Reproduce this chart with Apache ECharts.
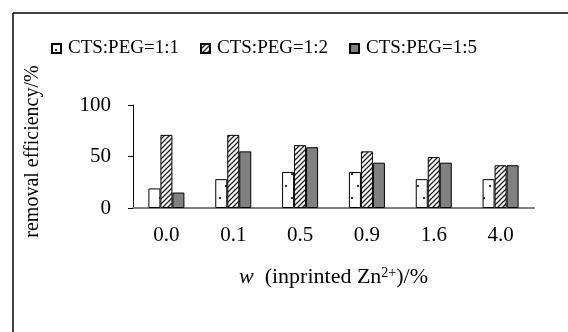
<!DOCTYPE html>
<html>
<head>
<meta charset="utf-8">
<script src="https://cdn.jsdelivr.net/npm/echarts@6/dist/echarts.min.js"></script>
<style>
  html, body { margin: 0; padding: 0; background: #fff; }
  #chart { width: 568px; height: 332px; }
</style>
</head>
<body>
<div id="chart"></div>
<script>
// x categories: w (inprinted Zn2+)/%
const categories = ['0.0', '0.1', '0.5', '0.9', '1.6', '4.0']
// removal efficiency/% for each CTS:PEG ratio
const ratio11 = [19, 28, 35, 35, 28, 28]
const ratio12 = [71, 71, 61, 55, 49.5, 41.5]
const ratio15 = [15, 55, 59, 44, 44, 41.5]
const seriesNames = ['CTS:PEG=1:1', 'CTS:PEG=1:2', 'CTS:PEG=1:5']
const yTicks = [0, 50, 100]

const FONT = "'Liberation Serif', 'Times New Roman', serif"

// 点状填充
function dotPattern() {
  let c = document.createElement('canvas')
  c.width = 12
  c.height = 24
  let ctx = c.getContext('2d')
  ctx.fillStyle = '#fff'
  ctx.fillRect(0, 0, 12, 24)
  ctx.fillStyle = '#333'
  ctx.fillRect(3, 5, 2, 2)
  ctx.fillRect(9, 17, 2, 2)
  return c
}

// 斜线填充
function hatchPattern() {
  let c = document.createElement('canvas')
  c.width = 5
  c.height = 5
  let ctx = c.getContext('2d')
  ctx.fillStyle = '#fff'
  ctx.fillRect(0, 0, 5, 5)
  ctx.strokeStyle = '#222'
  ctx.lineWidth = 1.3
  ctx.beginPath()
  ctx.moveTo(-1, 6)
  ctx.lineTo(6, -1)
  ctx.moveTo(-1, 1)
  ctx.lineTo(1, -1)
  ctx.moveTo(4, 6)
  ctx.lineTo(6, 4)
  ctx.stroke()
  return c
}

let chartDom = document.getElementById('chart')
let myChart = echarts.init(chartDom)

let fills = [
  { image: dotPattern(), repeat: 'repeat' },
  { image: hatchPattern(), repeat: 'repeat' },
  '#808080'
]
let values = [ratio11, ratio12, ratio15]

let option = {
  animation: false,
  backgroundColor: '#fff',
  textStyle: { fontFamily: FONT },
  graphic: [
    { type: 'line', shape: { x1: 13, y1: 13, x2: 568, y2: 13 }, style: { stroke: '#000', lineWidth: 1.5 } },
    { type: 'line', shape: { x1: 13, y1: 13, x2: 13, y2: 332 }, style: { stroke: '#000', lineWidth: 1.5 } }
  ],
  legend: {
    top: 34,
    left: 46,
    itemWidth: 9,
    itemHeight: 9,
    itemGap: 21,
    icon: 'rect',
    textStyle: { fontFamily: FONT, fontSize: 19, color: '#000', padding: [0, 0, 0, 2] },
    data: seriesNames
  },
  grid: { left: 133, right: 34, top: 105, bottom: 124 },
  xAxis: {
    type: 'category',
    data: categories,
    name: '{i|w}{t|  (inprinted Zn}{s|2+}{t|)/%}',
    nameLocation: 'middle',
    nameGap: 58,
    nameTextStyle: {
      rich: {
        i: { fontFamily: FONT, fontSize: 22, fontStyle: 'italic', color: '#000' },
        t: { fontFamily: FONT, fontSize: 22, color: '#000' },
        s: { fontFamily: FONT, fontSize: 14, color: '#000', verticalAlign: 'top', padding: [0, 0, 9, 0] }
      }
    },
    axisLine: { lineStyle: { color: '#808080', width: 2 } },
    axisTick: { inside: true, length: 5, lineStyle: { color: '#000' } },
    axisLabel: { fontFamily: FONT, fontSize: 21, color: '#000', margin: 17 }
  },
  yAxis: {
    type: 'value',
    min: 0,
    max: 100,
    interval: 50,
    name: 'removal efficiency/%',
    nameLocation: 'middle',
    nameGap: 90,
    nameRotate: 90,
    nameTextStyle: { fontFamily: FONT, fontSize: 20, color: '#000', padding: [0, 0, 0, 10] },
    axisLine: { show: true, lineStyle: { color: '#000', width: 1 } },
    axisTick: { show: true, length: 5, lineStyle: { color: '#000' } },
    axisLabel: {
      fontFamily: FONT, fontSize: 21, color: '#000', margin: 22,
      formatter: v => (yTicks.indexOf(v) >= 0 ? String(v) : '')
    },
    splitLine: { show: false }
  },
  series: []
}

for (let i = 0; i < seriesNames.length; i++) {
  option.series.push({
    name: seriesNames[i],
    type: 'bar',
    barWidth: 12,
    barGap: '0%',
    data: values[i],
    itemStyle: { color: fills[i], borderColor: '#000', borderWidth: 1 }
  })
}

myChart.setOption(option)
</script>
</body>
</html>
